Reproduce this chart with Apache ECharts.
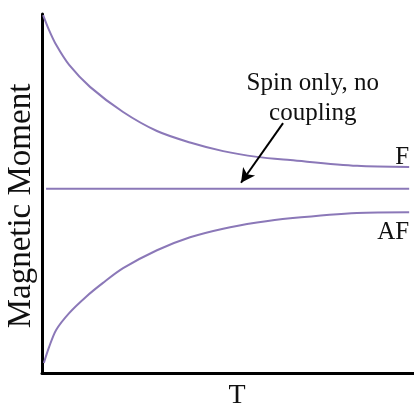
<!DOCTYPE html>
<html>
<head>
<meta charset="utf-8">
<script src="https://cdn.jsdelivr.net/npm/echarts@6/dist/echarts.min.js"></script>
<style>
html,body{margin:0;padding:0;background:#fff;}
#chart{width:414px;height:404px;}
</style>
</head>
<body>
<div id="chart"></div>
<script>
// Temperature values (arbitrary units) and magnetic moment values
const fT = [0.03, 0.19, 0.38, 0.73, 1.29, 2.18, 3.09, 3.98, 4.87, 5.78, 6.67, 8.47, 9.87];
const fM = [9.97, 9.55, 9.14, 8.58, 7.97, 7.27, 6.74, 6.42, 6.18, 6.02, 5.93, 5.77, 5.74];
const spinT = [0.11, 9.87];
const spinM = [5.13, 5.13];
const afT = [0.05, 0.19, 0.38, 0.73, 1.18, 1.64, 2.18, 3.09, 3.98, 4.87, 5.78, 6.67, 8.47, 9.87];
const afM = [0.28, 0.72, 1.20, 1.67, 2.12, 2.51, 2.92, 3.42, 3.78, 4.02, 4.19, 4.31, 4.46, 4.48];
const seriesNames = ['F', 'Spin only, no coupling', 'AF'];
const xAxisName = 'T';
const yAxisName = 'Magnetic Moment';
const annotationText = 'Spin only, no\ncoupling';

const pair = (xs, ys) => xs.map((x, i) => [x, ys[i]]);
const serif = "'Liberation Serif', 'Times New Roman', serif";
const lineColor = '#8b78b8';

const chart = echarts.init(document.getElementById('chart'), null, {renderer: 'canvas'});
chart.setOption({
  animation: false,
  backgroundColor: '#ffffff',
  grid: {left: 42, right: 0, top: 14, bottom: 31, containLabel: false, outerBoundsMode: 'none'},
  xAxis: {
    type: 'value', min: 0, max: 10,
    name: xAxisName, nameLocation: 'middle', nameGap: 9,
    nameTextStyle: {fontFamily: serif, fontSize: 28, color: '#111', padding: [0, 0, 0, 18]},
    axisLine: {show: true, onZero: false, lineStyle: {color: '#000', width: 3}},
    axisTick: {show: false}, axisLabel: {show: false}, splitLine: {show: false}
  },
  yAxis: {
    type: 'value', min: 0, max: 10,
    name: yAxisName, nameLocation: 'middle', nameGap: 4,
    nameTextStyle: {fontFamily: serif, fontSize: 33, color: '#111', padding: [0, 25, 0, 0]},
    axisLine: {show: true, onZero: false, lineStyle: {color: '#000', width: 3}},
    axisTick: {show: false}, axisLabel: {show: false}, splitLine: {show: false}
  },
  series: [
    {
      name: seriesNames[0], type: 'line', data: pair(fT, fM), smooth: 0.3,
      showSymbol: false, lineStyle: {color: lineColor, width: 2},
      endLabel: {show: true, formatter: 'F', fontFamily: serif, fontSize: 25, color: '#111',
        align: 'right', verticalAlign: 'bottom', offset: [0, 3], distance: 0}
    },
    {
      name: seriesNames[1], type: 'line', data: pair(spinT, spinM),
      showSymbol: false, lineStyle: {color: lineColor, width: 2},
      markLine: {
        silent: true, symbol: ['none', 'arrow'], symbolSize: [11, 14],
        lineStyle: {color: '#000', width: 2, type: 'solid'},
        label: {show: false},
        data: [[{coord: [6.48, 6.96]}, {coord: [5.35, 5.30]}]]
      },
      markPoint: {
        silent: true, symbol: 'circle', symbolSize: 0,
        data: [{coord: [7.28, 7.65]}],
        label: {show: true, position: 'inside', formatter: annotationText,
          fontFamily: serif, fontSize: 25, lineHeight: 30, color: '#111', align: 'center'}
      }
    },
    {
      name: seriesNames[2], type: 'line', data: pair(afT, afM), smooth: 0.3,
      showSymbol: false, lineStyle: {color: lineColor, width: 2},
      endLabel: {show: true, formatter: 'AF', fontFamily: serif, fontSize: 25, color: '#111',
        align: 'right', verticalAlign: 'top', offset: [0, 8], distance: 0}
    }
  ]
});
</script>
</body>
</html>
